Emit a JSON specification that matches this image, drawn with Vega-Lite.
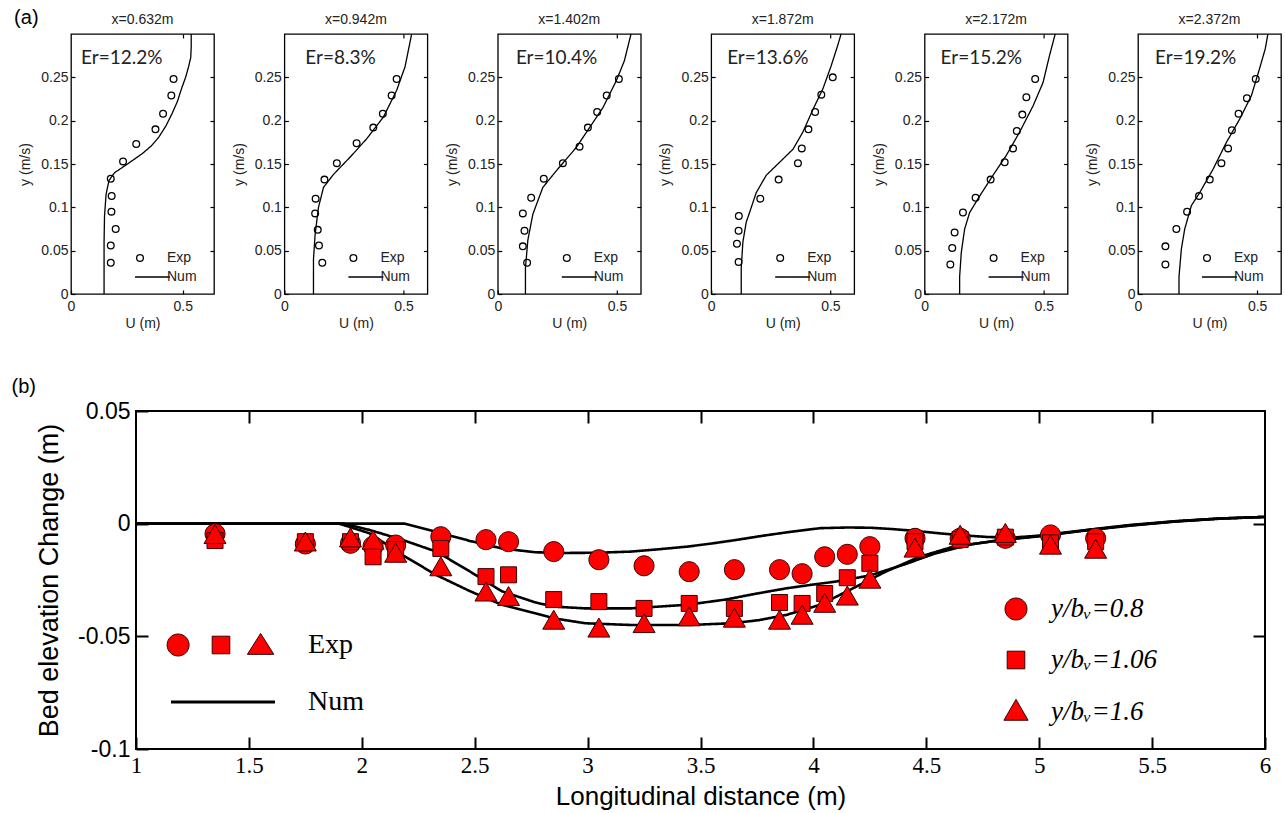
{
  "$schema": "https://vega.github.io/schema/vega-lite/v6.json",
  "background": "white",
  "padding": {"left": 10, "top": 7, "right": 2, "bottom": 2},
  "config": {
    "view": {"stroke": "black", "strokeWidth": 1.3},
    "axis": {"domain": false, "grid": false, "tickColor": "black", "tickWidth": 1.2, "labelFlush": false, "labelOverlap": false, "labelFont": "Liberation Sans", "titleFont": "Liberation Sans", "titleFontWeight": "normal", "labelColor": "#222", "titleColor": "#222"},
    "legend": {"labelLimit": 0},
    "title": {"font": "Liberation Sans", "fontWeight": "normal", "color": "#222"}
  },
  "datasets": {
    "profiles": [
      {"panel": "p1", "kind": "Exp", "U": 0.459, "y": 0.248}, {"panel": "p1", "kind": "Exp", "U": 0.449, "y": 0.229}, {"panel": "p1", "kind": "Exp", "U": 0.412, "y": 0.208}, {"panel": "p1", "kind": "Exp", "U": 0.378, "y": 0.19}, {"panel": "p1", "kind": "Exp", "U": 0.292, "y": 0.173}, {"panel": "p1", "kind": "Exp", "U": 0.233, "y": 0.153}, {"panel": "p1", "kind": "Exp", "U": 0.178, "y": 0.133}, {"panel": "p1", "kind": "Exp", "U": 0.182, "y": 0.113}, {"panel": "p1", "kind": "Exp", "U": 0.181, "y": 0.095}, {"panel": "p1", "kind": "Exp", "U": 0.2, "y": 0.075}, {"panel": "p1", "kind": "Exp", "U": 0.178, "y": 0.056}, {"panel": "p1", "kind": "Exp", "U": 0.178, "y": 0.036},
      {"panel": "p1", "kind": "Num", "U": 0.148, "y": 0}, {"panel": "p1", "kind": "Num", "U": 0.148, "y": 0.06}, {"panel": "p1", "kind": "Num", "U": 0.15, "y": 0.09}, {"panel": "p1", "kind": "Num", "U": 0.157, "y": 0.115}, {"panel": "p1", "kind": "Num", "U": 0.17, "y": 0.131}, {"panel": "p1", "kind": "Num", "U": 0.195, "y": 0.14}, {"panel": "p1", "kind": "Num", "U": 0.23, "y": 0.146}, {"panel": "p1", "kind": "Num", "U": 0.275, "y": 0.154}, {"panel": "p1", "kind": "Num", "U": 0.319, "y": 0.162}, {"panel": "p1", "kind": "Num", "U": 0.36, "y": 0.171}, {"panel": "p1", "kind": "Num", "U": 0.393, "y": 0.181}, {"panel": "p1", "kind": "Num", "U": 0.425, "y": 0.194}, {"panel": "p1", "kind": "Num", "U": 0.452, "y": 0.208}, {"panel": "p1", "kind": "Num", "U": 0.476, "y": 0.222}, {"panel": "p1", "kind": "Num", "U": 0.496, "y": 0.238}, {"panel": "p1", "kind": "Num", "U": 0.513, "y": 0.25}, {"panel": "p1", "kind": "Num", "U": 0.526, "y": 0.262}, {"panel": "p1", "kind": "Num", "U": 0.536, "y": 0.273}, {"panel": "p1", "kind": "Num", "U": 0.538, "y": 0.285}, {"panel": "p1", "kind": "Num", "U": 0.538, "y": 0.3},
      {"panel": "p2", "kind": "Exp", "U": 0.471, "y": 0.248}, {"panel": "p2", "kind": "Exp", "U": 0.45, "y": 0.229}, {"panel": "p2", "kind": "Exp", "U": 0.413, "y": 0.208}, {"panel": "p2", "kind": "Exp", "U": 0.373, "y": 0.192}, {"panel": "p2", "kind": "Exp", "U": 0.303, "y": 0.174}, {"panel": "p2", "kind": "Exp", "U": 0.22, "y": 0.151}, {"panel": "p2", "kind": "Exp", "U": 0.168, "y": 0.132}, {"panel": "p2", "kind": "Exp", "U": 0.131, "y": 0.11}, {"panel": "p2", "kind": "Exp", "U": 0.129, "y": 0.093}, {"panel": "p2", "kind": "Exp", "U": 0.14, "y": 0.074}, {"panel": "p2", "kind": "Exp", "U": 0.145, "y": 0.056}, {"panel": "p2", "kind": "Exp", "U": 0.159, "y": 0.036},
      {"panel": "p2", "kind": "Num", "U": 0.122, "y": 0}, {"panel": "p2", "kind": "Num", "U": 0.122, "y": 0.04}, {"panel": "p2", "kind": "Num", "U": 0.129, "y": 0.069}, {"panel": "p2", "kind": "Num", "U": 0.143, "y": 0.1}, {"panel": "p2", "kind": "Num", "U": 0.164, "y": 0.123}, {"panel": "p2", "kind": "Num", "U": 0.206, "y": 0.138}, {"panel": "p2", "kind": "Num", "U": 0.276, "y": 0.158}, {"panel": "p2", "kind": "Num", "U": 0.345, "y": 0.179}, {"panel": "p2", "kind": "Num", "U": 0.415, "y": 0.204}, {"panel": "p2", "kind": "Num", "U": 0.471, "y": 0.235}, {"panel": "p2", "kind": "Num", "U": 0.506, "y": 0.262}, {"panel": "p2", "kind": "Num", "U": 0.52, "y": 0.281}, {"panel": "p2", "kind": "Num", "U": 0.534, "y": 0.3},
      {"panel": "p3", "kind": "Exp", "U": 0.508, "y": 0.248}, {"panel": "p3", "kind": "Exp", "U": 0.457, "y": 0.229}, {"panel": "p3", "kind": "Exp", "U": 0.417, "y": 0.21}, {"panel": "p3", "kind": "Exp", "U": 0.378, "y": 0.192}, {"panel": "p3", "kind": "Exp", "U": 0.343, "y": 0.17}, {"panel": "p3", "kind": "Exp", "U": 0.273, "y": 0.151}, {"panel": "p3", "kind": "Exp", "U": 0.193, "y": 0.133}, {"panel": "p3", "kind": "Exp", "U": 0.14, "y": 0.111}, {"panel": "p3", "kind": "Exp", "U": 0.105, "y": 0.093}, {"panel": "p3", "kind": "Exp", "U": 0.112, "y": 0.073}, {"panel": "p3", "kind": "Exp", "U": 0.105, "y": 0.055}, {"panel": "p3", "kind": "Exp", "U": 0.123, "y": 0.036},
      {"panel": "p3", "kind": "Num", "U": 0.116, "y": 0}, {"panel": "p3", "kind": "Num", "U": 0.116, "y": 0.03}, {"panel": "p3", "kind": "Num", "U": 0.126, "y": 0.062}, {"panel": "p3", "kind": "Num", "U": 0.147, "y": 0.092}, {"panel": "p3", "kind": "Num", "U": 0.189, "y": 0.123}, {"panel": "p3", "kind": "Num", "U": 0.245, "y": 0.142}, {"panel": "p3", "kind": "Num", "U": 0.329, "y": 0.169}, {"panel": "p3", "kind": "Num", "U": 0.385, "y": 0.192}, {"panel": "p3", "kind": "Num", "U": 0.441, "y": 0.215}, {"panel": "p3", "kind": "Num", "U": 0.497, "y": 0.246}, {"panel": "p3", "kind": "Num", "U": 0.531, "y": 0.269}, {"panel": "p3", "kind": "Num", "U": 0.559, "y": 0.3},
      {"panel": "p4", "kind": "Exp", "U": 0.51, "y": 0.25}, {"panel": "p4", "kind": "Exp", "U": 0.462, "y": 0.23}, {"panel": "p4", "kind": "Exp", "U": 0.436, "y": 0.21}, {"panel": "p4", "kind": "Exp", "U": 0.408, "y": 0.19}, {"panel": "p4", "kind": "Exp", "U": 0.38, "y": 0.168}, {"panel": "p4", "kind": "Exp", "U": 0.364, "y": 0.151}, {"panel": "p4", "kind": "Exp", "U": 0.283, "y": 0.132}, {"panel": "p4", "kind": "Exp", "U": 0.206, "y": 0.11}, {"panel": "p4", "kind": "Exp", "U": 0.116, "y": 0.09}, {"panel": "p4", "kind": "Exp", "U": 0.115, "y": 0.073}, {"panel": "p4", "kind": "Exp", "U": 0.108, "y": 0.058}, {"panel": "p4", "kind": "Exp", "U": 0.115, "y": 0.037},
      {"panel": "p4", "kind": "Num", "U": 0.126, "y": 0}, {"panel": "p4", "kind": "Num", "U": 0.126, "y": 0.03}, {"panel": "p4", "kind": "Num", "U": 0.133, "y": 0.06}, {"panel": "p4", "kind": "Num", "U": 0.147, "y": 0.083}, {"panel": "p4", "kind": "Num", "U": 0.161, "y": 0.094}, {"panel": "p4", "kind": "Num", "U": 0.189, "y": 0.117}, {"panel": "p4", "kind": "Num", "U": 0.231, "y": 0.137}, {"panel": "p4", "kind": "Num", "U": 0.287, "y": 0.152}, {"panel": "p4", "kind": "Num", "U": 0.343, "y": 0.167}, {"panel": "p4", "kind": "Num", "U": 0.385, "y": 0.187}, {"panel": "p4", "kind": "Num", "U": 0.427, "y": 0.213}, {"panel": "p4", "kind": "Num", "U": 0.469, "y": 0.237}, {"panel": "p4", "kind": "Num", "U": 0.503, "y": 0.263}, {"panel": "p4", "kind": "Num", "U": 0.531, "y": 0.287}, {"panel": "p4", "kind": "Num", "U": 0.545, "y": 0.3},
      {"panel": "p5", "kind": "Exp", "U": 0.464, "y": 0.248}, {"panel": "p5", "kind": "Exp", "U": 0.427, "y": 0.227}, {"panel": "p5", "kind": "Exp", "U": 0.41, "y": 0.207}, {"panel": "p5", "kind": "Exp", "U": 0.387, "y": 0.188}, {"panel": "p5", "kind": "Exp", "U": 0.371, "y": 0.168}, {"panel": "p5", "kind": "Exp", "U": 0.336, "y": 0.152}, {"panel": "p5", "kind": "Exp", "U": 0.277, "y": 0.132}, {"panel": "p5", "kind": "Exp", "U": 0.214, "y": 0.111}, {"panel": "p5", "kind": "Exp", "U": 0.161, "y": 0.094}, {"panel": "p5", "kind": "Exp", "U": 0.126, "y": 0.071}, {"panel": "p5", "kind": "Exp", "U": 0.116, "y": 0.053}, {"panel": "p5", "kind": "Exp", "U": 0.108, "y": 0.034},
      {"panel": "p5", "kind": "Num", "U": 0.147, "y": 0}, {"panel": "p5", "kind": "Num", "U": 0.147, "y": 0.02}, {"panel": "p5", "kind": "Num", "U": 0.154, "y": 0.048}, {"panel": "p5", "kind": "Num", "U": 0.168, "y": 0.075}, {"panel": "p5", "kind": "Num", "U": 0.189, "y": 0.094}, {"panel": "p5", "kind": "Num", "U": 0.231, "y": 0.113}, {"panel": "p5", "kind": "Num", "U": 0.287, "y": 0.137}, {"panel": "p5", "kind": "Num", "U": 0.343, "y": 0.16}, {"panel": "p5", "kind": "Num", "U": 0.399, "y": 0.187}, {"panel": "p5", "kind": "Num", "U": 0.455, "y": 0.217}, {"panel": "p5", "kind": "Num", "U": 0.497, "y": 0.244}, {"panel": "p5", "kind": "Num", "U": 0.524, "y": 0.275}, {"panel": "p5", "kind": "Num", "U": 0.548, "y": 0.3},
      {"panel": "p6", "kind": "Exp", "U": 0.494, "y": 0.248}, {"panel": "p6", "kind": "Exp", "U": 0.457, "y": 0.226}, {"panel": "p6", "kind": "Exp", "U": 0.422, "y": 0.208}, {"panel": "p6", "kind": "Exp", "U": 0.394, "y": 0.189}, {"panel": "p6", "kind": "Exp", "U": 0.378, "y": 0.168}, {"panel": "p6", "kind": "Exp", "U": 0.35, "y": 0.151}, {"panel": "p6", "kind": "Exp", "U": 0.301, "y": 0.132}, {"panel": "p6", "kind": "Exp", "U": 0.256, "y": 0.113}, {"panel": "p6", "kind": "Exp", "U": 0.206, "y": 0.095}, {"panel": "p6", "kind": "Exp", "U": 0.161, "y": 0.075}, {"panel": "p6", "kind": "Exp", "U": 0.115, "y": 0.055}, {"panel": "p6", "kind": "Exp", "U": 0.115, "y": 0.034},
      {"panel": "p6", "kind": "Num", "U": 0.172, "y": 0}, {"panel": "p6", "kind": "Num", "U": 0.172, "y": 0.02}, {"panel": "p6", "kind": "Num", "U": 0.182, "y": 0.052}, {"panel": "p6", "kind": "Num", "U": 0.196, "y": 0.075}, {"panel": "p6", "kind": "Num", "U": 0.224, "y": 0.102}, {"panel": "p6", "kind": "Num", "U": 0.259, "y": 0.117}, {"panel": "p6", "kind": "Num", "U": 0.315, "y": 0.144}, {"panel": "p6", "kind": "Num", "U": 0.371, "y": 0.175}, {"panel": "p6", "kind": "Num", "U": 0.427, "y": 0.202}, {"panel": "p6", "kind": "Num", "U": 0.476, "y": 0.229}, {"panel": "p6", "kind": "Num", "U": 0.51, "y": 0.26}, {"panel": "p6", "kind": "Num", "U": 0.534, "y": 0.283}, {"panel": "p6", "kind": "Num", "U": 0.545, "y": 0.3}
    ],
    "errors": [
      {"panel": "p1", "er": "Er=12.2%"}, {"panel": "p2", "er": "Er=8.3%"}, {"panel": "p3", "er": "Er=10.4%"},
      {"panel": "p4", "er": "Er=13.6%"}, {"panel": "p5", "er": "Er=15.2%"}, {"panel": "p6", "er": "Er=19.2%"}
    ],
    "bedNum": [
      {"series": "0.8", "kind": "Num", "x": 1.0, "z": 0}, {"series": "0.8", "kind": "Num", "x": 2.19, "z": 0}, {"series": "0.8", "kind": "Num", "x": 2.33, "z": -0.0036}, {"series": "0.8", "kind": "Num", "x": 2.48, "z": -0.0077}, {"series": "0.8", "kind": "Num", "x": 2.62, "z": -0.011}, {"series": "0.8", "kind": "Num", "x": 2.77, "z": -0.0127}, {"series": "0.8", "kind": "Num", "x": 2.9, "z": -0.013}, {"series": "0.8", "kind": "Num", "x": 3.05, "z": -0.0129}, {"series": "0.8", "kind": "Num", "x": 3.19, "z": -0.0124}, {"series": "0.8", "kind": "Num", "x": 3.3, "z": -0.0115}, {"series": "0.8", "kind": "Num", "x": 3.44, "z": -0.0102}, {"series": "0.8", "kind": "Num", "x": 3.55, "z": -0.0088}, {"series": "0.8", "kind": "Num", "x": 3.66, "z": -0.0072}, {"series": "0.8", "kind": "Num", "x": 3.78, "z": -0.0053}, {"series": "0.8", "kind": "Num", "x": 3.9, "z": -0.0036}, {"series": "0.8", "kind": "Num", "x": 4.03, "z": -0.002}, {"series": "0.8", "kind": "Num", "x": 4.15, "z": -0.0017}, {"series": "0.8", "kind": "Num", "x": 4.25, "z": -0.0018}, {"series": "0.8", "kind": "Num", "x": 4.35, "z": -0.0024}, {"series": "0.8", "kind": "Num", "x": 4.45, "z": -0.0032}, {"series": "0.8", "kind": "Num", "x": 4.55, "z": -0.0042}, {"series": "0.8", "kind": "Num", "x": 4.65, "z": -0.0051}, {"series": "0.8", "kind": "Num", "x": 4.77, "z": -0.0059}, {"series": "0.8", "kind": "Num", "x": 4.88, "z": -0.0062}, {"series": "0.8", "kind": "Num", "x": 5.0, "z": -0.0053}, {"series": "0.8", "kind": "Num", "x": 5.2, "z": -0.0029}, {"series": "0.8", "kind": "Num", "x": 5.4, "z": -0.0006}, {"series": "0.8", "kind": "Num", "x": 5.6, "z": 0.0011}, {"series": "0.8", "kind": "Num", "x": 5.8, "z": 0.0023}, {"series": "0.8", "kind": "Num", "x": 6.0, "z": 0.003},
      {"series": "1.06", "kind": "Num", "x": 1.0, "z": 0}, {"series": "1.06", "kind": "Num", "x": 1.92, "z": 0}, {"series": "1.06", "kind": "Num", "x": 2.035, "z": -0.0028}, {"series": "1.06", "kind": "Num", "x": 2.18, "z": -0.0072}, {"series": "1.06", "kind": "Num", "x": 2.33, "z": -0.0124}, {"series": "1.06", "kind": "Num", "x": 2.48, "z": -0.0213}, {"series": "1.06", "kind": "Num", "x": 2.62, "z": -0.03}, {"series": "1.06", "kind": "Num", "x": 2.77, "z": -0.035}, {"series": "1.06", "kind": "Num", "x": 2.85, "z": -0.0368}, {"series": "1.06", "kind": "Num", "x": 2.99, "z": -0.0376}, {"series": "1.06", "kind": "Num", "x": 3.19, "z": -0.0376}, {"series": "1.06", "kind": "Num", "x": 3.44, "z": -0.036}, {"series": "1.06", "kind": "Num", "x": 3.61, "z": -0.0337}, {"series": "1.06", "kind": "Num", "x": 3.75, "z": -0.031}, {"series": "1.06", "kind": "Num", "x": 3.88, "z": -0.0287}, {"series": "1.06", "kind": "Num", "x": 4.0, "z": -0.027}, {"series": "1.06", "kind": "Num", "x": 4.1, "z": -0.0257}, {"series": "1.06", "kind": "Num", "x": 4.25, "z": -0.023}, {"series": "1.06", "kind": "Num", "x": 4.4, "z": -0.0182}, {"series": "1.06", "kind": "Num", "x": 4.54, "z": -0.0132}, {"series": "1.06", "kind": "Num", "x": 4.69, "z": -0.0093}, {"series": "1.06", "kind": "Num", "x": 4.84, "z": -0.0071}, {"series": "1.06", "kind": "Num", "x": 5.0, "z": -0.0055}, {"series": "1.06", "kind": "Num", "x": 5.2, "z": -0.003}, {"series": "1.06", "kind": "Num", "x": 5.4, "z": -0.0008}, {"series": "1.06", "kind": "Num", "x": 5.6, "z": 0.001}, {"series": "1.06", "kind": "Num", "x": 5.8, "z": 0.0023}, {"series": "1.06", "kind": "Num", "x": 6.0, "z": 0.003},
      {"series": "1.6", "kind": "Num", "x": 1.0, "z": 0}, {"series": "1.6", "kind": "Num", "x": 1.9, "z": 0}, {"series": "1.6", "kind": "Num", "x": 2.035, "z": -0.0043}, {"series": "1.6", "kind": "Num", "x": 2.18, "z": -0.0139}, {"series": "1.6", "kind": "Num", "x": 2.33, "z": -0.0228}, {"series": "1.6", "kind": "Num", "x": 2.48, "z": -0.03}, {"series": "1.6", "kind": "Num", "x": 2.62, "z": -0.036}, {"series": "1.6", "kind": "Num", "x": 2.77, "z": -0.0398}, {"series": "1.6", "kind": "Num", "x": 2.85, "z": -0.042}, {"series": "1.6", "kind": "Num", "x": 2.99, "z": -0.0442}, {"series": "1.6", "kind": "Num", "x": 3.2, "z": -0.045}, {"series": "1.6", "kind": "Num", "x": 3.44, "z": -0.045}, {"series": "1.6", "kind": "Num", "x": 3.64, "z": -0.0442}, {"series": "1.6", "kind": "Num", "x": 3.76, "z": -0.0428}, {"series": "1.6", "kind": "Num", "x": 3.88, "z": -0.0405}, {"series": "1.6", "kind": "Num", "x": 4.03, "z": -0.036}, {"series": "1.6", "kind": "Num", "x": 4.175, "z": -0.0287}, {"series": "1.6", "kind": "Num", "x": 4.32, "z": -0.0213}, {"series": "1.6", "kind": "Num", "x": 4.47, "z": -0.0147}, {"series": "1.6", "kind": "Num", "x": 4.62, "z": -0.0102}, {"series": "1.6", "kind": "Num", "x": 4.84, "z": -0.0072}, {"series": "1.6", "kind": "Num", "x": 5.0, "z": -0.0056}, {"series": "1.6", "kind": "Num", "x": 5.2, "z": -0.0031}, {"series": "1.6", "kind": "Num", "x": 5.4, "z": -0.0009}, {"series": "1.6", "kind": "Num", "x": 5.6, "z": 0.0009}, {"series": "1.6", "kind": "Num", "x": 5.8, "z": 0.0022}, {"series": "1.6", "kind": "Num", "x": 6.0, "z": 0.003}
    ],
    "bedExp": [
      {"series": "0.8", "kind": "Exp", "x": 1.35, "z": -0.0045}, {"series": "0.8", "kind": "Exp", "x": 1.75, "z": -0.009}, {"series": "0.8", "kind": "Exp", "x": 1.95, "z": -0.0087}, {"series": "0.8", "kind": "Exp", "x": 2.05, "z": -0.01}, {"series": "0.8", "kind": "Exp", "x": 2.15, "z": -0.0095}, {"series": "0.8", "kind": "Exp", "x": 2.35, "z": -0.0058}, {"series": "0.8", "kind": "Exp", "x": 2.55, "z": -0.0071}, {"series": "0.8", "kind": "Exp", "x": 2.65, "z": -0.008}, {"series": "0.8", "kind": "Exp", "x": 2.85, "z": -0.0124}, {"series": "0.8", "kind": "Exp", "x": 3.05, "z": -0.016}, {"series": "0.8", "kind": "Exp", "x": 3.25, "z": -0.0187}, {"series": "0.8", "kind": "Exp", "x": 3.45, "z": -0.0213}, {"series": "0.8", "kind": "Exp", "x": 3.65, "z": -0.0204}, {"series": "0.8", "kind": "Exp", "x": 3.85, "z": -0.0204}, {"series": "0.8", "kind": "Exp", "x": 3.95, "z": -0.0222}, {"series": "0.8", "kind": "Exp", "x": 4.05, "z": -0.0147}, {"series": "0.8", "kind": "Exp", "x": 4.15, "z": -0.0136}, {"series": "0.8", "kind": "Exp", "x": 4.25, "z": -0.0102}, {"series": "0.8", "kind": "Exp", "x": 4.45, "z": -0.0065}, {"series": "0.8", "kind": "Exp", "x": 4.65, "z": -0.0065}, {"series": "0.8", "kind": "Exp", "x": 4.85, "z": -0.0065}, {"series": "0.8", "kind": "Exp", "x": 5.05, "z": -0.005}, {"series": "0.8", "kind": "Exp", "x": 5.25, "z": -0.0065},
      {"series": "1.06", "kind": "Exp", "x": 1.35, "z": -0.0075}, {"series": "1.06", "kind": "Exp", "x": 1.75, "z": -0.008}, {"series": "1.06", "kind": "Exp", "x": 1.95, "z": -0.008}, {"series": "1.06", "kind": "Exp", "x": 2.05, "z": -0.0147}, {"series": "1.06", "kind": "Exp", "x": 2.15, "z": -0.0115}, {"series": "1.06", "kind": "Exp", "x": 2.35, "z": -0.011}, {"series": "1.06", "kind": "Exp", "x": 2.55, "z": -0.0235}, {"series": "1.06", "kind": "Exp", "x": 2.65, "z": -0.0227}, {"series": "1.06", "kind": "Exp", "x": 2.85, "z": -0.0337}, {"series": "1.06", "kind": "Exp", "x": 3.05, "z": -0.0346}, {"series": "1.06", "kind": "Exp", "x": 3.25, "z": -0.0376}, {"series": "1.06", "kind": "Exp", "x": 3.45, "z": -0.0354}, {"series": "1.06", "kind": "Exp", "x": 3.65, "z": -0.0376}, {"series": "1.06", "kind": "Exp", "x": 3.85, "z": -0.035}, {"series": "1.06", "kind": "Exp", "x": 3.95, "z": -0.0354}, {"series": "1.06", "kind": "Exp", "x": 4.05, "z": -0.031}, {"series": "1.06", "kind": "Exp", "x": 4.15, "z": -0.024}, {"series": "1.06", "kind": "Exp", "x": 4.25, "z": -0.0176}, {"series": "1.06", "kind": "Exp", "x": 4.45, "z": -0.008}, {"series": "1.06", "kind": "Exp", "x": 4.65, "z": -0.007}, {"series": "1.06", "kind": "Exp", "x": 4.85, "z": -0.006}, {"series": "1.06", "kind": "Exp", "x": 5.05, "z": -0.0085}, {"series": "1.06", "kind": "Exp", "x": 5.25, "z": -0.008},
      {"series": "1.6", "kind": "Exp", "x": 1.35, "z": -0.0055}, {"series": "1.6", "kind": "Exp", "x": 1.75, "z": -0.0088}, {"series": "1.6", "kind": "Exp", "x": 1.95, "z": -0.007}, {"series": "1.6", "kind": "Exp", "x": 2.05, "z": -0.008}, {"series": "1.6", "kind": "Exp", "x": 2.15, "z": -0.0138}, {"series": "1.6", "kind": "Exp", "x": 2.35, "z": -0.0198}, {"series": "1.6", "kind": "Exp", "x": 2.55, "z": -0.031}, {"series": "1.6", "kind": "Exp", "x": 2.65, "z": -0.033}, {"series": "1.6", "kind": "Exp", "x": 2.85, "z": -0.0435}, {"series": "1.6", "kind": "Exp", "x": 3.05, "z": -0.047}, {"series": "1.6", "kind": "Exp", "x": 3.25, "z": -0.045}, {"series": "1.6", "kind": "Exp", "x": 3.45, "z": -0.042}, {"series": "1.6", "kind": "Exp", "x": 3.65, "z": -0.0426}, {"series": "1.6", "kind": "Exp", "x": 3.85, "z": -0.0435}, {"series": "1.6", "kind": "Exp", "x": 3.95, "z": -0.0413}, {"series": "1.6", "kind": "Exp", "x": 4.05, "z": -0.036}, {"series": "1.6", "kind": "Exp", "x": 4.15, "z": -0.0328}, {"series": "1.6", "kind": "Exp", "x": 4.25, "z": -0.0253}, {"series": "1.6", "kind": "Exp", "x": 4.45, "z": -0.0115}, {"series": "1.6", "kind": "Exp", "x": 4.65, "z": -0.0058}, {"series": "1.6", "kind": "Exp", "x": 4.85, "z": -0.005}, {"series": "1.6", "kind": "Exp", "x": 5.05, "z": -0.0102}, {"series": "1.6", "kind": "Exp", "x": 5.25, "z": -0.012}
    ]
  },
  "spacing": 45,
  "resolve": {"scale": {"strokeDash": "independent", "shape": "independent", "stroke": "independent", "fill": "independent"}, "legend": {"strokeDash": "independent", "shape": "independent", "stroke": "independent", "fill": "independent"}},
  "vconcat": [
    {
      "title": {"text": "(a)", "anchor": "start", "frame": "bounds", "fontSize": 20, "color": "black", "dx": -4, "dy": 15, "offset": 0},
      "bounds": "flush",
      "spacing": 70.4,
      "resolve": {"scale": {"strokeDash": "independent", "stroke": "independent"}, "legend": {"strokeDash": "independent", "stroke": "independent"}},
      "hconcat": [
        {
          "width": 143, "height": 260,
          "title": {"text": "x=0.632m", "fontSize": 14, "offset": 4},
          "layer": [
            {"data": {"name": "profiles"}, "transform": [{"filter": "datum.panel == 'p1' && datum.kind == 'Num'"}],
             "mark": {"type": "line", "color": "black", "strokeWidth": 1.3},
             "encoding": {
               "x": {"field": "U", "type": "quantitative", "scale": {"domain": [0, 0.64], "nice": false}, "axis": {"orient": "bottom", "values": [0, 0.5], "format": "~g", "title": "U (m)", "tickSize": -4, "labelPadding": 9, "titlePadding": 3, "labelFontSize": 14, "titleFontSize": 14}},
               "y": {"field": "y", "type": "quantitative", "scale": {"domain": [0, 0.3], "nice": false}, "axis": {"orient": "left", "values": [0, 0.05, 0.1, 0.15, 0.2, 0.25], "format": "~g", "title": "y (m/s)", "tickSize": -4, "labelPadding": 7, "titlePadding": 8, "labelFontSize": 14, "titleFontSize": 14}},
               "order": {"field": "y", "type": "quantitative"},
               "strokeDash": {"field": "kind", "type": "nominal", "scale": {"domain": ["Num"], "range": [[1, 0]]}, "legend": {"orient": "none", "legendX": 63, "legendY": 224.5, "title": null, "padding": 0, "symbolSize": 1225, "symbolStrokeWidth": 1.3, "symbolStrokeColor": "black", "labelOffset": -4, "labelFont": "Liberation Sans", "labelFontSize": 14, "labelColor": "#222"}}
             }},
            {"data": {"name": "profiles"}, "transform": [{"filter": "datum.panel == 'p1' && datum.kind == 'Exp'"}],
             "mark": {"type": "point", "shape": "circle", "filled": false, "size": 45, "strokeWidth": 1.3, "opacity": 1},
             "encoding": {
               "x": {"field": "U", "type": "quantitative", "axis": {"orient": "top", "values": [0.5], "labels": false, "title": null, "tickSize": -4}},
               "y": {"field": "y", "type": "quantitative", "axis": {"orient": "right", "values": [0.05, 0.1, 0.15, 0.2, 0.25], "labels": false, "title": null, "tickSize": -4}},
               "stroke": {"field": "kind", "type": "nominal", "scale": {"domain": ["Exp"], "range": ["black"]}, "legend": {"orient": "none", "legendX": 62, "legendY": 217, "title": null, "padding": 0, "symbolType": "circle", "symbolSize": 45, "symbolStrokeWidth": 1.3, "symbolFillColor": "transparent", "labelOffset": 20, "labelFont": "Liberation Sans", "labelFontSize": 14, "labelColor": "#222"}}
             }},
            {"data": {"name": "errors"}, "transform": [{"filter": "datum.panel == 'p1'"}],
             "mark": {"type": "text", "align": "left", "baseline": "middle", "font": "Lato", "fontSize": 19, "color": "#222"},
             "encoding": {"x": {"datum": 0.045, "type": "quantitative", "axis": null}, "y": {"datum": 0.272, "type": "quantitative", "axis": null}, "text": {"field": "er"}}}
          ],
          "resolve": {"axis": {"x": "independent", "y": "independent"}}
        },
        {
          "width": 143, "height": 260,
          "title": {"text": "x=0.942m", "fontSize": 14, "offset": 4},
          "layer": [
            {"data": {"name": "profiles"}, "transform": [{"filter": "datum.panel == 'p2' && datum.kind == 'Num'"}],
             "mark": {"type": "line", "color": "black", "strokeWidth": 1.3},
             "encoding": {
               "x": {"field": "U", "type": "quantitative", "scale": {"domain": [0, 0.6], "nice": false}, "axis": {"orient": "bottom", "values": [0, 0.5], "format": "~g", "title": "U (m)", "tickSize": -4, "labelPadding": 9, "titlePadding": 3, "labelFontSize": 14, "titleFontSize": 14}},
               "y": {"field": "y", "type": "quantitative", "scale": {"domain": [0, 0.3], "nice": false}, "axis": {"orient": "left", "values": [0, 0.05, 0.1, 0.15, 0.2, 0.25], "format": "~g", "title": "y (m/s)", "tickSize": -4, "labelPadding": 7, "titlePadding": 8, "labelFontSize": 14, "titleFontSize": 14}},
               "order": {"field": "y", "type": "quantitative"},
               "strokeDash": {"field": "kind", "type": "nominal", "scale": {"domain": ["Num"], "range": [[1, 0]]}, "legend": {"orient": "none", "legendX": 63, "legendY": 224.5, "title": null, "padding": 0, "symbolSize": 1225, "symbolStrokeWidth": 1.3, "symbolStrokeColor": "black", "labelOffset": -4, "labelFont": "Liberation Sans", "labelFontSize": 14, "labelColor": "#222"}}
             }},
            {"data": {"name": "profiles"}, "transform": [{"filter": "datum.panel == 'p2' && datum.kind == 'Exp'"}],
             "mark": {"type": "point", "shape": "circle", "filled": false, "size": 45, "strokeWidth": 1.3, "opacity": 1},
             "encoding": {
               "x": {"field": "U", "type": "quantitative", "axis": {"orient": "top", "values": [0.5], "labels": false, "title": null, "tickSize": -4}},
               "y": {"field": "y", "type": "quantitative", "axis": {"orient": "right", "values": [0.05, 0.1, 0.15, 0.2, 0.25], "labels": false, "title": null, "tickSize": -4}},
               "stroke": {"field": "kind", "type": "nominal", "scale": {"domain": ["Exp"], "range": ["black"]}, "legend": {"orient": "none", "legendX": 62, "legendY": 217, "title": null, "padding": 0, "symbolType": "circle", "symbolSize": 45, "symbolStrokeWidth": 1.3, "symbolFillColor": "transparent", "labelOffset": 20, "labelFont": "Liberation Sans", "labelFontSize": 14, "labelColor": "#222"}}
             }},
            {"data": {"name": "errors"}, "transform": [{"filter": "datum.panel == 'p2'"}],
             "mark": {"type": "text", "align": "left", "baseline": "middle", "font": "Lato", "fontSize": 19, "color": "#222"},
             "encoding": {"x": {"datum": 0.088, "type": "quantitative", "axis": null}, "y": {"datum": 0.272, "type": "quantitative", "axis": null}, "text": {"field": "er"}}}
          ],
          "resolve": {"axis": {"x": "independent", "y": "independent"}}
        },
        {
          "width": 143, "height": 260,
          "title": {"text": "x=1.402m", "fontSize": 14, "offset": 4},
          "layer": [
            {"data": {"name": "profiles"}, "transform": [{"filter": "datum.panel == 'p3' && datum.kind == 'Num'"}],
             "mark": {"type": "line", "color": "black", "strokeWidth": 1.3},
             "encoding": {
               "x": {"field": "U", "type": "quantitative", "scale": {"domain": [0, 0.6], "nice": false}, "axis": {"orient": "bottom", "values": [0, 0.5], "format": "~g", "title": "U (m)", "tickSize": -4, "labelPadding": 9, "titlePadding": 3, "labelFontSize": 14, "titleFontSize": 14}},
               "y": {"field": "y", "type": "quantitative", "scale": {"domain": [0, 0.3], "nice": false}, "axis": {"orient": "left", "values": [0, 0.05, 0.1, 0.15, 0.2, 0.25], "format": "~g", "title": "y (m/s)", "tickSize": -4, "labelPadding": 7, "titlePadding": 8, "labelFontSize": 14, "titleFontSize": 14}},
               "order": {"field": "y", "type": "quantitative"},
               "strokeDash": {"field": "kind", "type": "nominal", "scale": {"domain": ["Num"], "range": [[1, 0]]}, "legend": {"orient": "none", "legendX": 63, "legendY": 224.5, "title": null, "padding": 0, "symbolSize": 1225, "symbolStrokeWidth": 1.3, "symbolStrokeColor": "black", "labelOffset": -4, "labelFont": "Liberation Sans", "labelFontSize": 14, "labelColor": "#222"}}
             }},
            {"data": {"name": "profiles"}, "transform": [{"filter": "datum.panel == 'p3' && datum.kind == 'Exp'"}],
             "mark": {"type": "point", "shape": "circle", "filled": false, "size": 45, "strokeWidth": 1.3, "opacity": 1},
             "encoding": {
               "x": {"field": "U", "type": "quantitative", "axis": {"orient": "top", "values": [0.5], "labels": false, "title": null, "tickSize": -4}},
               "y": {"field": "y", "type": "quantitative", "axis": {"orient": "right", "values": [0.05, 0.1, 0.15, 0.2, 0.25], "labels": false, "title": null, "tickSize": -4}},
               "stroke": {"field": "kind", "type": "nominal", "scale": {"domain": ["Exp"], "range": ["black"]}, "legend": {"orient": "none", "legendX": 62, "legendY": 217, "title": null, "padding": 0, "symbolType": "circle", "symbolSize": 45, "symbolStrokeWidth": 1.3, "symbolFillColor": "transparent", "labelOffset": 20, "labelFont": "Liberation Sans", "labelFontSize": 14, "labelColor": "#222"}}
             }},
            {"data": {"name": "errors"}, "transform": [{"filter": "datum.panel == 'p3'"}],
             "mark": {"type": "text", "align": "left", "baseline": "middle", "font": "Lato", "fontSize": 19, "color": "#222"},
             "encoding": {"x": {"datum": 0.076, "type": "quantitative", "axis": null}, "y": {"datum": 0.272, "type": "quantitative", "axis": null}, "text": {"field": "er"}}}
          ],
          "resolve": {"axis": {"x": "independent", "y": "independent"}}
        },
        {
          "width": 143, "height": 260,
          "title": {"text": "x=1.872m", "fontSize": 14, "offset": 4},
          "layer": [
            {"data": {"name": "profiles"}, "transform": [{"filter": "datum.panel == 'p4' && datum.kind == 'Num'"}],
             "mark": {"type": "line", "color": "black", "strokeWidth": 1.3},
             "encoding": {
               "x": {"field": "U", "type": "quantitative", "scale": {"domain": [0, 0.6], "nice": false}, "axis": {"orient": "bottom", "values": [0, 0.5], "format": "~g", "title": "U (m)", "tickSize": -4, "labelPadding": 9, "titlePadding": 3, "labelFontSize": 14, "titleFontSize": 14}},
               "y": {"field": "y", "type": "quantitative", "scale": {"domain": [0, 0.3], "nice": false}, "axis": {"orient": "left", "values": [0, 0.05, 0.1, 0.15, 0.2, 0.25], "format": "~g", "title": "y (m/s)", "tickSize": -4, "labelPadding": 7, "titlePadding": 8, "labelFontSize": 14, "titleFontSize": 14}},
               "order": {"field": "y", "type": "quantitative"},
               "strokeDash": {"field": "kind", "type": "nominal", "scale": {"domain": ["Num"], "range": [[1, 0]]}, "legend": {"orient": "none", "legendX": 63, "legendY": 224.5, "title": null, "padding": 0, "symbolSize": 1225, "symbolStrokeWidth": 1.3, "symbolStrokeColor": "black", "labelOffset": -4, "labelFont": "Liberation Sans", "labelFontSize": 14, "labelColor": "#222"}}
             }},
            {"data": {"name": "profiles"}, "transform": [{"filter": "datum.panel == 'p4' && datum.kind == 'Exp'"}],
             "mark": {"type": "point", "shape": "circle", "filled": false, "size": 45, "strokeWidth": 1.3, "opacity": 1},
             "encoding": {
               "x": {"field": "U", "type": "quantitative", "axis": {"orient": "top", "values": [0.5], "labels": false, "title": null, "tickSize": -4}},
               "y": {"field": "y", "type": "quantitative", "axis": {"orient": "right", "values": [0.05, 0.1, 0.15, 0.2, 0.25], "labels": false, "title": null, "tickSize": -4}},
               "stroke": {"field": "kind", "type": "nominal", "scale": {"domain": ["Exp"], "range": ["black"]}, "legend": {"orient": "none", "legendX": 62, "legendY": 217, "title": null, "padding": 0, "symbolType": "circle", "symbolSize": 45, "symbolStrokeWidth": 1.3, "symbolFillColor": "transparent", "labelOffset": 20, "labelFont": "Liberation Sans", "labelFontSize": 14, "labelColor": "#222"}}
             }},
            {"data": {"name": "errors"}, "transform": [{"filter": "datum.panel == 'p4'"}],
             "mark": {"type": "text", "align": "left", "baseline": "middle", "font": "Lato", "fontSize": 19, "color": "#222"},
             "encoding": {"x": {"datum": 0.067, "type": "quantitative", "axis": null}, "y": {"datum": 0.272, "type": "quantitative", "axis": null}, "text": {"field": "er"}}}
          ],
          "resolve": {"axis": {"x": "independent", "y": "independent"}}
        },
        {
          "width": 143, "height": 260,
          "title": {"text": "x=2.172m", "fontSize": 14, "offset": 4},
          "layer": [
            {"data": {"name": "profiles"}, "transform": [{"filter": "datum.panel == 'p5' && datum.kind == 'Num'"}],
             "mark": {"type": "line", "color": "black", "strokeWidth": 1.3},
             "encoding": {
               "x": {"field": "U", "type": "quantitative", "scale": {"domain": [0, 0.6], "nice": false}, "axis": {"orient": "bottom", "values": [0, 0.5], "format": "~g", "title": "U (m)", "tickSize": -4, "labelPadding": 9, "titlePadding": 3, "labelFontSize": 14, "titleFontSize": 14}},
               "y": {"field": "y", "type": "quantitative", "scale": {"domain": [0, 0.3], "nice": false}, "axis": {"orient": "left", "values": [0, 0.05, 0.1, 0.15, 0.2, 0.25], "format": "~g", "title": "y (m/s)", "tickSize": -4, "labelPadding": 7, "titlePadding": 8, "labelFontSize": 14, "titleFontSize": 14}},
               "order": {"field": "y", "type": "quantitative"},
               "strokeDash": {"field": "kind", "type": "nominal", "scale": {"domain": ["Num"], "range": [[1, 0]]}, "legend": {"orient": "none", "legendX": 63, "legendY": 224.5, "title": null, "padding": 0, "symbolSize": 1225, "symbolStrokeWidth": 1.3, "symbolStrokeColor": "black", "labelOffset": -4, "labelFont": "Liberation Sans", "labelFontSize": 14, "labelColor": "#222"}}
             }},
            {"data": {"name": "profiles"}, "transform": [{"filter": "datum.panel == 'p5' && datum.kind == 'Exp'"}],
             "mark": {"type": "point", "shape": "circle", "filled": false, "size": 45, "strokeWidth": 1.3, "opacity": 1},
             "encoding": {
               "x": {"field": "U", "type": "quantitative", "axis": {"orient": "top", "values": [0.5], "labels": false, "title": null, "tickSize": -4}},
               "y": {"field": "y", "type": "quantitative", "axis": {"orient": "right", "values": [0.05, 0.1, 0.15, 0.2, 0.25], "labels": false, "title": null, "tickSize": -4}},
               "stroke": {"field": "kind", "type": "nominal", "scale": {"domain": ["Exp"], "range": ["black"]}, "legend": {"orient": "none", "legendX": 62, "legendY": 217, "title": null, "padding": 0, "symbolType": "circle", "symbolSize": 45, "symbolStrokeWidth": 1.3, "symbolFillColor": "transparent", "labelOffset": 20, "labelFont": "Liberation Sans", "labelFontSize": 14, "labelColor": "#222"}}
             }},
            {"data": {"name": "errors"}, "transform": [{"filter": "datum.panel == 'p5'"}],
             "mark": {"type": "text", "align": "left", "baseline": "middle", "font": "Lato", "fontSize": 19, "color": "#222"},
             "encoding": {"x": {"datum": 0.067, "type": "quantitative", "axis": null}, "y": {"datum": 0.272, "type": "quantitative", "axis": null}, "text": {"field": "er"}}}
          ],
          "resolve": {"axis": {"x": "independent", "y": "independent"}}
        },
        {
          "width": 143, "height": 260,
          "title": {"text": "x=2.372m", "fontSize": 14, "offset": 4},
          "layer": [
            {"data": {"name": "profiles"}, "transform": [{"filter": "datum.panel == 'p6' && datum.kind == 'Num'"}],
             "mark": {"type": "line", "color": "black", "strokeWidth": 1.3},
             "encoding": {
               "x": {"field": "U", "type": "quantitative", "scale": {"domain": [0, 0.6], "nice": false}, "axis": {"orient": "bottom", "values": [0, 0.5], "format": "~g", "title": "U (m)", "tickSize": -4, "labelPadding": 9, "titlePadding": 3, "labelFontSize": 14, "titleFontSize": 14}},
               "y": {"field": "y", "type": "quantitative", "scale": {"domain": [0, 0.3], "nice": false}, "axis": {"orient": "left", "values": [0, 0.05, 0.1, 0.15, 0.2, 0.25], "format": "~g", "title": "y (m/s)", "tickSize": -4, "labelPadding": 7, "titlePadding": 8, "labelFontSize": 14, "titleFontSize": 14}},
               "order": {"field": "y", "type": "quantitative"},
               "strokeDash": {"field": "kind", "type": "nominal", "scale": {"domain": ["Num"], "range": [[1, 0]]}, "legend": {"orient": "none", "legendX": 63, "legendY": 224.5, "title": null, "padding": 0, "symbolSize": 1225, "symbolStrokeWidth": 1.3, "symbolStrokeColor": "black", "labelOffset": -4, "labelFont": "Liberation Sans", "labelFontSize": 14, "labelColor": "#222"}}
             }},
            {"data": {"name": "profiles"}, "transform": [{"filter": "datum.panel == 'p6' && datum.kind == 'Exp'"}],
             "mark": {"type": "point", "shape": "circle", "filled": false, "size": 45, "strokeWidth": 1.3, "opacity": 1},
             "encoding": {
               "x": {"field": "U", "type": "quantitative", "axis": {"orient": "top", "values": [0.5], "labels": false, "title": null, "tickSize": -4}},
               "y": {"field": "y", "type": "quantitative", "axis": {"orient": "right", "values": [0.05, 0.1, 0.15, 0.2, 0.25], "labels": false, "title": null, "tickSize": -4}},
               "stroke": {"field": "kind", "type": "nominal", "scale": {"domain": ["Exp"], "range": ["black"]}, "legend": {"orient": "none", "legendX": 62, "legendY": 217, "title": null, "padding": 0, "symbolType": "circle", "symbolSize": 45, "symbolStrokeWidth": 1.3, "symbolFillColor": "transparent", "labelOffset": 20, "labelFont": "Liberation Sans", "labelFontSize": 14, "labelColor": "#222"}}
             }},
            {"data": {"name": "errors"}, "transform": [{"filter": "datum.panel == 'p6'"}],
             "mark": {"type": "text", "align": "left", "baseline": "middle", "font": "Lato", "fontSize": 19, "color": "#222"},
             "encoding": {"x": {"datum": 0.071, "type": "quantitative", "axis": null}, "y": {"datum": 0.272, "type": "quantitative", "axis": null}, "text": {"field": "er"}}}
          ],
          "resolve": {"axis": {"x": "independent", "y": "independent"}}
        }
      ]
    },
    {
      "bounds": "flush",
      "spacing": 64,
      "resolve": {"scale": {"strokeDash": "independent", "shape": "independent", "fill": "independent"}, "legend": {"strokeDash": "independent", "shape": "independent", "fill": "independent"}},
      "hconcat": [
        {"width": 1, "height": 338, "view": {"stroke": null}, "data": {"values": []}, "mark": "point"},
        {
          "width": 1129, "height": 338,
          "view": {"stroke": "black", "strokeWidth": 2},
          "title": {"text": "(b)", "anchor": "start", "frame": "bounds", "fontSize": 20, "color": "black", "dx": -24, "offset": 3},
          "layer": [
            {"data": {"name": "bedNum"},
             "mark": {"type": "line", "color": "black", "strokeWidth": 2.6},
             "encoding": {
               "x": {"field": "x", "type": "quantitative", "scale": {"domain": [1, 6], "nice": false}, "axis": {"orient": "bottom", "values": [1, 1.5, 2, 2.5, 3, 3.5, 4, 4.5, 5, 5.5, 6], "format": "~g", "title": "Longitudinal distance (m)", "labelFont": "Liberation Serif", "labelFontSize": 23, "labelColor": "black", "titleFontSize": 26, "titleColor": "black", "tickSize": -12, "tickWidth": 2, "labelPadding": 17, "titlePadding": 6}},
               "y": {"field": "z", "type": "quantitative", "scale": {"domain": [-0.1, 0.05], "nice": false}, "axis": {"orient": "left", "values": [-0.1, -0.05, 0, 0.05], "format": "~g", "labelExpr": "replace(datum.label, '\u2212', '-')", "title": "Bed elevation Change (m)", "labelFontSize": 23, "labelColor": "black", "titleFontSize": 27, "titleColor": "black", "tickSize": -12, "tickWidth": 2, "labelPadding": 18, "titlePadding": 14}},
               "detail": {"field": "series"},
               "strokeDash": {"field": "kind", "type": "nominal", "scale": {"domain": ["Num"], "range": [[1, 0]]}, "legend": {"orient": "none", "legendX": 33.5, "legendY": 237.5, "title": null, "padding": 0, "symbolSize": 10816, "symbolStrokeWidth": 3, "symbolStrokeColor": "black", "labelOffset": 31.5, "labelFont": "Liberation Serif", "labelFontSize": 28, "labelColor": "black"}}
             }},
            {"data": {"name": "bedExp"},
             "mark": {"type": "point", "filled": true, "stroke": "#3a0000", "strokeWidth": 1, "size": 400, "opacity": 1},
             "encoding": {
               "x": {"field": "x", "type": "quantitative", "axis": {"orient": "top", "values": [1.5, 2, 2.5, 3, 3.5, 4, 4.5, 5, 5.5], "labels": false, "title": null, "tickSize": -12, "tickWidth": 2}},
               "y": {"field": "z", "type": "quantitative", "axis": {"orient": "right", "values": [-0.05, 0], "labels": false, "title": null, "tickSize": -12, "tickWidth": 2}},
               "shape": {"field": "series", "type": "nominal", "scale": {"domain": ["0.8", "1.06", "1.6"], "range": ["M1,0A1,1,0,1,1,-1,0A1,1,0,1,1,1,0Z", "M-0.8,-0.8L0.8,-0.8L0.8,0.8L-0.8,0.8Z", "M0,-1.15L1.1,0.75L-1.1,0.75Z"]},
                 "legend": {"orient": "none", "legendX": 866.5, "legendY": 184.5, "title": null, "padding": 0, "symbolSize": 484, "symbolStrokeWidth": 1, "symbolStrokeColor": "#3a0000", "symbolFillColor": "red", "labelOffset": 21.5, "rowPadding": 23, "labelFont": "Liberation Serif", "labelFontSize": 27, "labelFontStyle": "italic", "labelColor": "black", "labelExpr": "'y/b\u1d65=' + datum.label"}},
               "fill": {"field": "kind", "type": "nominal", "scale": {"domain": ["Exp"], "range": ["red"]},
                 "legend": {"orient": "none", "legendX": 71, "legendY": 220, "title": null, "padding": 0, "symbolType": "M-2.9,0A1,1,0,1,1,-4.9,0A1,1,0,1,1,-2.9,0ZM-0.8,-0.8L0.8,-0.8L0.8,0.8L-0.8,0.8ZM3.6,-1.05L4.8,0.85L2.4,0.85Z", "symbolSize": 484, "symbolStrokeWidth": 1, "symbolStrokeColor": "#3a0000", "symbolFillColor": "red", "labelOffset": 73, "labelFont": "Liberation Serif", "labelFontSize": 28, "labelColor": "black"}}
             }}
          ],
          "resolve": {"axis": {"x": "independent", "y": "independent"}}
        }
      ]
    }
  ]
}
